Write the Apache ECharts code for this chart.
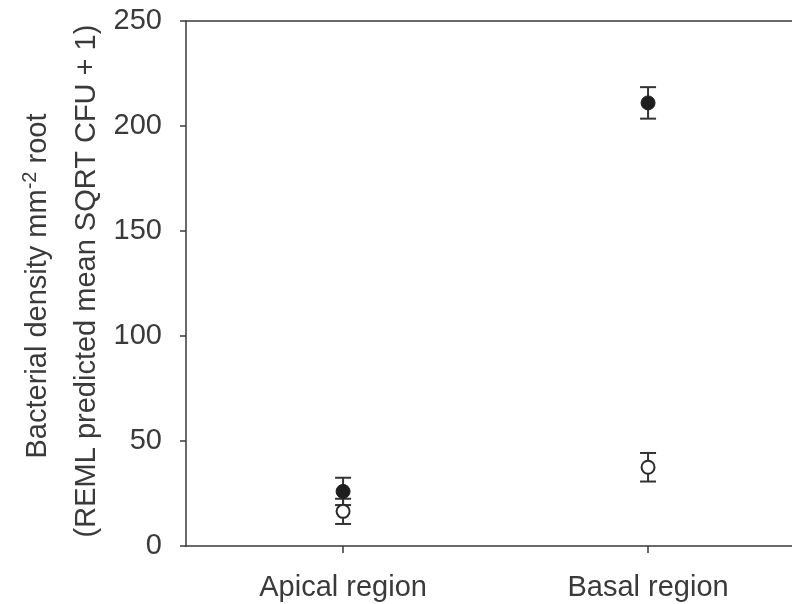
<!DOCTYPE html>
<html>
<head>
<meta charset="utf-8">
<script src="https://cdn.jsdelivr.net/npm/echarts@6/dist/echarts.min.js"></script>
<style>
html,body{margin:0;padding:0;background:#fff;}
#chart{width:792px;height:604px;}
</style>
</head>
<body>
<div id="chart"></div>
<script>
var categories = ['Apical region', 'Basal region'];
var categoryPositions = [1, 2];
var filledMeans = [26, 211];
var filledErrors = [6.5, 7.5];
var openMeans = [16.5, 37.5];
var openErrors = [6, 6.8];
var yTicks = [0, 50, 100, 150, 200, 250];

var FONT = '"Liberation Sans", Arial, sans-serif';
var INK = '#3a3a3a';

function errData(means, errs) {
  return means.map(function (m, i) { return [categoryPositions[i], m - errs[i], m + errs[i]]; });
}
function pointData(means) {
  return means.map(function (m, i) { return [categoryPositions[i], m]; });
}
function errRender(params, api) {
  var x = api.value(0);
  var lo = api.coord([x, api.value(1)]);
  var hi = api.coord([x, api.value(2)]);
  var hw = 8;
  var st = { stroke: '#333', lineWidth: 2 };
  return {
    type: 'group',
    children: [
      { type: 'line', shape: { x1: lo[0], y1: lo[1], x2: hi[0], y2: hi[1] }, style: st },
      { type: 'line', shape: { x1: lo[0] - hw, y1: lo[1], x2: lo[0] + hw, y2: lo[1] }, style: st },
      { type: 'line', shape: { x1: hi[0] - hw, y1: hi[1], x2: hi[0] + hw, y2: hi[1] }, style: st }
    ]
  };
}

var chart = echarts.init(document.getElementById('chart'), null, { renderer: 'canvas' });
chart.setOption({
  animation: false,
  backgroundColor: '#fff',
  grid: { left: 186, top: 21, right: 0, bottom: 58 },
  xAxis: [{
    type: 'value', min: 0.485, max: 2.472,
    splitLine: { show: false },
    axisLine: { lineStyle: { color: INK, width: 1.5 } },
    axisTick: { show: true, customValues: categoryPositions, length: 7, lineStyle: { color: INK, width: 1.5 } },
    axisLabel: {
      customValues: categoryPositions,
      formatter: function (v) { var i = categoryPositions.indexOf(Math.round(v)); return i >= 0 ? categories[i] : ''; },
      fontFamily: FONT, fontSize: 29, color: INK, margin: 27
    }
  }, {
    type: 'value', min: 0.485, max: 2.472, position: 'top',
    splitLine: { show: false },
    axisLine: { show: true, onZero: false, lineStyle: { color: INK, width: 1.5 } },
    axisTick: { show: false }, axisLabel: { show: false }
  }],
  yAxis: {
    type: 'value', min: 0, max: 250, interval: 50,
    splitLine: { show: false },
    axisLine: { show: true, lineStyle: { color: INK, width: 1.5 } },
    axisTick: { show: true, length: 6, lineStyle: { color: INK, width: 1.5 } },
    axisLabel: { fontFamily: FONT, fontSize: 29, color: INK, margin: 24,
      formatter: function (v) { return yTicks.indexOf(v) >= 0 ? String(v) : ''; } }
  },
  graphic: [
    {
      type: 'text', x: 38, y: 286, rotation: Math.PI / 2,
      style: {
        text: '{a|Bacterial density mm}{s|-2}{a| root}',
        align: 'center', verticalAlign: 'middle',
        rich: {
          a: { fontFamily: FONT, fontSize: 29, fill: INK, lineHeight: 34 },
          s: { fontFamily: FONT, fontSize: 20, fill: INK, lineHeight: 34, padding: [0, 0, 16, 0] }
        }
      }
    },
    {
      type: 'text', x: 87, y: 281, rotation: Math.PI / 2,
      style: {
        text: '(REML predicted mean SQRT CFU + 1)',
        align: 'center', verticalAlign: 'middle',
        font: '29px ' + FONT, fill: INK
      }
    }
  ],
  series: [
    { type: 'custom', renderItem: errRender, data: errData(filledMeans, filledErrors), z: 2 },
    { type: 'custom', renderItem: errRender, data: errData(openMeans, openErrors), z: 2 },
    { type: 'scatter', data: pointData(filledMeans), symbol: 'circle', symbolSize: 14,
      itemStyle: { color: '#1e1e1e', borderColor: '#1e1e1e', borderWidth: 1, opacity: 1 }, z: 3 },
    { type: 'scatter', data: pointData(openMeans), symbol: 'circle', symbolSize: 13,
      itemStyle: { color: '#fff', borderColor: '#2a2a2a', borderWidth: 2, opacity: 1 }, z: 4 }
  ]
});
</script>
</body>
</html>
